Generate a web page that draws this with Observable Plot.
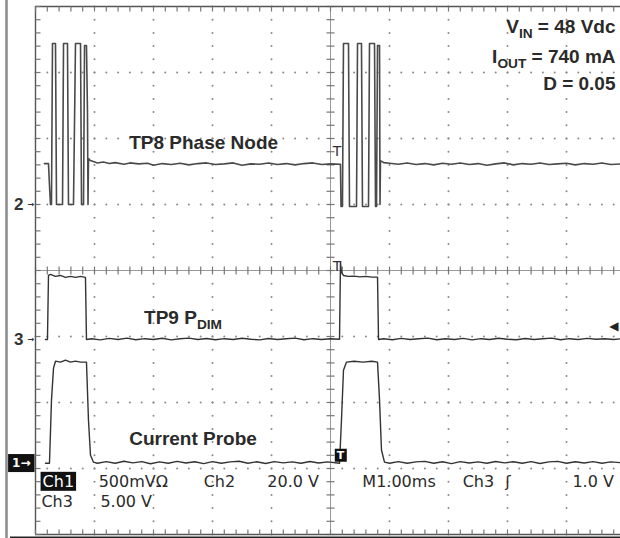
<!DOCTYPE html>
<html><head><meta charset="utf-8">
<script src="https://cdn.jsdelivr.net/npm/d3@7"></script>
<script src="https://cdn.jsdelivr.net/npm/@observablehq/plot@0.6"></script>
<style>html,body{margin:0;padding:0;background:#fff} #chart svg{display:block}</style>
</head><body><div id="chart"></div>
<script>
// ---- channel setup (scope settings) ----
const channelNames = ["Ch1", "Ch2", "Ch3"];
const voltsPerDiv = [0.5, 20, 5];          // Ch1 500 mV/Ω (A/div), Ch2 20 V/div, Ch3 5 V/div
const markerDiv = [-2.92, 1.0, -1.045];    // ground markers, divisions from centre
const triggerLevel = 1.0;                  // Ch3 trigger level, V
const triggerTime = 5.14;                  // ms

// ---- traces: [time ms, value] ----
const ch2Trace = [[0.15,12.4],[0.22,12.4],[0.237,5.8],[0.254,0],[0.271,0],[0.288,48.8],[0.339,48.8],[0.356,0],[0.458,0],[0.475,48.8],[0.542,48.8],[0.559,0],[0.644,0],[0.678,48.8],[0.763,48.8],[0.78,0],[0.814,0],[0.831,48.2],[0.864,48.2],[0.881,27.9],[0.89,0],[0.898,13.9],[0.93,13.3],[0.98,13.0],[1.05,12.6],[1.15,12.9],[1.25,12.4],[1.35,12.7],[1.5,12.2],[1.6,12.6],[1.75,12.3],[1.9,12.5],[2.0,11.9],[2.15,12.4],[2.3,12.1],[2.45,12.5],[2.6,12.0],[2.75,12.4],[2.9,12.6],[3.05,12.1],[3.2,12.3],[3.35,12.6],[3.5,11.9],[3.65,12.3],[3.8,12.2],[3.95,12.6],[4.1,12.1],[4.25,12.4],[4.4,12.0],[4.55,12.4],[4.7,12.6],[4.85,12.1],[5.0,12.3],[5.169,12.2],[5.178,-0.6],[5.203,-0.6],[5.22,48.8],[5.305,48.8],[5.322,-0.6],[5.441,-0.6],[5.458,48.8],[5.525,48.8],[5.542,-0.6],[5.644,-0.6],[5.661,48.8],[5.746,48.8],[5.763,-0.6],[5.78,-0.6],[5.797,48.2],[5.831,48.2],[5.839,0],[5.847,13.3],[5.9,12.7],[6.0,12.5],[6.15,12.2],[6.3,12.6],[6.45,12.1],[6.6,12.4],[6.75,12.0],[6.9,12.5],[7.05,12.2],[7.2,12.6],[7.35,12.1],[7.5,12.4],[7.65,11.9],[7.8,12.3],[7.95,12.6],[8.1,12.0],[8.25,12.4],[8.4,12.2],[8.55,12.6],[8.7,12.1],[8.85,12.3],[9.0,12.5],[9.15,12.0],[9.3,12.4],[9.45,12.2],[9.6,12.6],[9.75,12.1],[9.92,12.3]];

const ch3Trace = [[0.169,0],[0.203,0],[0.22,4.85],[0.254,4.93],[0.339,4.78],[0.424,4.85],[0.508,4.7],[0.593,4.78],[0.678,4.7],[0.763,4.78],[0.847,4.7],[0.864,0],[0.95,0.05],[1.1,-0.03],[1.25,0.08],[1.4,0.0],[1.55,0.1],[1.7,-0.02],[1.85,0.06],[2.0,0.0],[2.15,0.09],[2.3,-0.03],[2.45,0.05],[2.6,0.1],[2.75,0.0],[2.9,0.07],[3.05,-0.02],[3.2,0.06],[3.35,0.0],[3.5,0.09],[3.65,0.02],[3.8,-0.03],[3.95,0.07],[4.1,0.0],[4.25,0.05],[4.4,0.1],[4.55,-0.02],[4.7,0.06],[4.85,0.0],[5.0,0.05],[5.153,0.02],[5.169,5.84],[5.186,5.08],[5.22,4.85],[5.3,4.78],[5.4,4.8],[5.5,4.74],[5.6,4.78],[5.7,4.72],[5.797,4.72],[5.814,0],[5.9,0.05],[6.05,-0.02],[6.2,0.08],[6.35,0.0],[6.5,0.06],[6.65,0.1],[6.8,-0.02],[6.95,0.05],[7.1,0.0],[7.25,0.08],[7.4,-0.03],[7.55,0.06],[7.7,0.0],[7.85,0.09],[8.0,0.02],[8.15,-0.02],[8.3,0.07],[8.45,0.0],[8.6,0.05],[8.75,0.1],[8.9,-0.02],[9.05,0.06],[9.2,0.0],[9.35,0.08],[9.5,0.02],[9.65,0.06],[9.8,0.0],[9.92,0.05]];

const ch1Trace = [[0.169,0],[0.237,0],[0.271,0.478],[0.305,0.72],[0.339,0.773],[0.424,0.766],[0.508,0.781],[0.593,0.766],[0.678,0.773],[0.763,0.766],[0.864,0.766],[0.898,0.326],[0.932,0.061],[0.983,0.008],[1.05,0.0],[1.2,0.012],[1.35,0.0],[1.5,0.015],[1.65,0.003],[1.8,0.012],[1.95,-0.004],[2.1,0.01],[2.25,0.0],[2.4,0.014],[2.55,0.002],[2.7,0.011],[2.85,-0.003],[3.0,0.012],[3.15,0.0],[3.3,0.01],[3.45,0.015],[3.6,0.0],[3.75,0.011],[3.9,-0.002],[4.05,0.012],[4.2,0.003],[4.35,0.01],[4.5,0.0],[4.65,0.013],[4.8,0.002],[4.95,0.01],[5.153,0.0],[5.186,0.326],[5.22,0.705],[5.271,0.766],[5.4,0.773],[5.55,0.766],[5.7,0.773],[5.797,0.766],[5.831,0.478],[5.864,0.1],[5.915,0.008],[6.0,0.0],[6.15,0.012],[6.3,0.0],[6.45,0.01],[6.6,0.014],[6.75,0.0],[6.9,0.011],[7.05,-0.003],[7.2,0.012],[7.35,0.002],[7.5,0.01],[7.65,0.0],[7.8,0.013],[7.95,0.003],[8.1,0.011],[8.25,0.0],[8.4,0.012],[8.55,-0.002],[8.7,0.01],[8.85,0.014],[9.0,0.0],[9.15,0.011],[9.3,0.002],[9.45,0.012],[9.6,0.0],[9.75,0.01],[9.92,0.004]];

// ---- texts ----
const traceLabels = ["Current Probe", "TP8 Phase Node", "TP9 P_DIM"];
const conditionLabels = ["V_IN = 48 Vdc", "I_OUT = 740 mA", "D = 0.05"];
const readoutRow1 = ["Ch1", "500mVΩ", "Ch2", "20.0 V", "M1.00ms", "Ch3", "ʃ", "1.0 V"];
const readoutRow2 = ["Ch3", "5.00 V"];
const markerLabels = ["1", "2", "3"];

// ---- helpers ----
const toDiv = (i) => (d) => markerDiv[i] + d[1] / voltsPerDiv[i];
const divs = d3.range(0, 51).map(k => k / 5);        // 1/5-division steps horizontally
const vdivs = d3.range(0, 41).map(k => -4 + k / 5);  // 1/5-division steps vertically
const gridX = [1,2,3,4,6,7,8,9];
const gridY = [-3,-2,-1,1,2,3];
const dotsV = gridX.flatMap(x => vdivs.map(y => ({x, y})));
const dotsH = gridY.flatMap(y => divs.map(x => ({x, y})));
const pxX = 1/59, pxY = 1/66;
const sans = "Liberation Sans, Arial, sans-serif";
const scopeFont = "DejaVu Sans, sans-serif";

const row1X = [0.12, 1.07, 2.85, 3.93, 5.54, 7.24, 7.96, 9.1];
const row2X = [0.1, 1.1];

const plot = Plot.plot({
  width: 620, height: 538,
  marginTop: 0, marginRight: 0, marginBottom: 0, marginLeft: 0,
  x: {domain: [0, 10], range: [35, 625], axis: null},
  y: {domain: [-4, 4], range: [534, 6], axis: null},
  style: {background: "#fff"},
  marks: [
    // screen edge artefacts
    Plot.ruleX([0], {dx: -29, stroke: "#8a8a8a", strokeWidth: 2.5}),
    Plot.ruleY([-4], {dy: 3, x1: -25*pxX, x2: 10, stroke: "#222", strokeWidth: 2}),
    // dotted graticule
    Plot.dot(dotsV, {x: "x", y: "y", r: 1, fill: "#8a8a8a"}),
    Plot.dot(dotsH, {x: "x", y: "y", r: 1, fill: "#8a8a8a"}),
    // centre cross with ticks
    Plot.ruleX([5], {y1: -4, y2: 4, stroke: "#999", strokeWidth: 1}),
    Plot.ruleY([0], {x1: 0, x2: 10, stroke: "#999", strokeWidth: 1}),
    Plot.link(divs, {x1: d => d, x2: d => d, y1: () => -4*pxY, y2: () => 4*pxY, stroke: "#777", strokeWidth: 1.2}),
    Plot.link(vdivs, {y1: d => d, y2: d => d, x1: () => 5 - 4*pxX, x2: () => 5 + 4*pxX, stroke: "#777", strokeWidth: 1.2}),
    // frame
    Plot.ruleY([4], {x1: 0, x2: 10, stroke: "#555", strokeWidth: 1.4}),
    Plot.ruleY([-4], {x1: 0, x2: 10, stroke: "#555", strokeWidth: 1.4}),
    Plot.ruleX([0], {y1: -4, y2: 4, stroke: "#555", strokeWidth: 1.4}),
    Plot.link(divs, {x1: d => d, x2: d => d, y1: () => 4, y2: () => 4 - 5*pxY, stroke: "#777", strokeWidth: 1.2}),
    Plot.link(divs, {x1: d => d, x2: d => d, y1: () => -4, y2: () => -4 + 5*pxY, stroke: "#777", strokeWidth: 1.2}),
    Plot.link(vdivs, {y1: d => d, y2: d => d, x1: () => 0, x2: () => 5*pxX, stroke: "#777", strokeWidth: 1.2}),
    // traces
    Plot.line(ch2Trace, {x: d => d[0], y: toDiv(1), stroke: "#4a4a4a", strokeWidth: 1.6}),
    Plot.line(ch3Trace, {x: d => d[0], y: toDiv(2), stroke: "#333", strokeWidth: 1.4}),
    Plot.line(ch1Trace, {x: d => d[0], y: toDiv(0), stroke: "#333", strokeWidth: 1.4}),
    // trigger markers
    Plot.text(["T"], {x: triggerTime - 0.03, y: markerDiv[1] + 12.2/voltsPerDiv[1] + 13*pxY, text: d => d, fontSize: 14, fontFamily: scopeFont, fill: "#333"}),
    Plot.text(["T"], {x: triggerTime - 0.03, y: markerDiv[2] + 5.84/voltsPerDiv[2] - 4*pxY, text: d => d, fontSize: 14, fontFamily: scopeFont, fill: "#333"}),
    Plot.text(["T"], {x: triggerTime + 0.03, y: markerDiv[0] + 8*pxY, text: d => d, fontSize: 11, fontWeight: "bold", fontFamily: scopeFont, fill: "#fff"}),
    Plot.text(["◀"], {x: 10, dx: -7, y: markerDiv[2] + triggerLevel / voltsPerDiv[2], text: d => d, fontSize: 12, fontFamily: scopeFont, fill: "#222", textAnchor: "end"}),
    // channel ground markers
    Plot.text([markerLabels[1], markerLabels[2]], {x: 0, dx: -12, y: (d, i) => markerDiv[i + 1], text: d => d, fontSize: 17, fontWeight: "bold", fontFamily: sans, fill: "#333", textAnchor: "end"}),
    Plot.text(["→", "→"], {x: 0, dx: -1, y: (d, i) => markerDiv[i + 1], text: d => d, fontSize: 8, fontWeight: "bold", fontFamily: scopeFont, fill: "#333", textAnchor: "end"}),
    Plot.text([markerLabels[0] + "→"], {x: 0, dx: -5, y: markerDiv[0], text: d => d, fontSize: 12, fontWeight: "bold", fontFamily: scopeFont, fill: "#fff", textAnchor: "end"}),
    // trace labels
    Plot.text([traceLabels[1]], {x: 2.85, y: 1.94, text: d => d, fontSize: 19, fontWeight: "bold", fontFamily: sans, fill: "#2a2a2a"}),
    Plot.text([traceLabels[2]], {x: 2.5, y: -0.72, text: d => d, fontSize: 19, fontWeight: "bold", fontFamily: sans, fill: "#2a2a2a"}),
    Plot.text([traceLabels[0]], {x: 2.67, y: -2.55, text: d => d, fontSize: 19, fontWeight: "bold", fontFamily: sans, fill: "#2a2a2a"}),
    // conditions
    Plot.text(conditionLabels, {x: 10, dx: -10, y: (d, i) => [3.69, 3.23, 2.83][i], text: d => d, fontSize: 19, fontWeight: "bold", fontFamily: sans, fill: "#2a2a2a", textAnchor: "end"}),
    // readout
    Plot.text(readoutRow1, {x: (d, i) => row1X[i], y: -3.2, text: d => d, fontSize: 16, fontFamily: scopeFont, fill: (d, i) => i === 0 ? "#fff" : "#2a2a2a", textAnchor: "start"}),
    Plot.text(readoutRow2, {x: (d, i) => row2X[i], y: -3.5, text: d => d, fontSize: 16, fontFamily: scopeFont, fill: "#2a2a2a", textAnchor: "start"})
  ]
});
document.getElementById("chart").append(plot);

// subscripts: "X_SUB rest"
d3.select(plot).selectAll("text").each(function () {
  const t = this.textContent;
  const m = /^(.*?)_([A-Z]+)(.*)$/.exec(t);
  if (!m) return;
  const sel = d3.select(this);
  sel.text(null);
  sel.append("tspan").text(m[1]);
  sel.append("tspan").attr("font-size", "0.72em").attr("dy", 5).text(m[2]);
  sel.append("tspan").attr("dy", -5).text(m[3]);
});

// black boxes behind highlighted labels
d3.select(plot).selectAll("text").each(function () {
  const t = this.textContent;
  const white = (this.getAttribute("fill") || this.parentNode.getAttribute("fill") || "").toLowerCase();
  const isBox = ((t === "Ch1" || t === "T") && (white === "#fff" || white === "white")) || t === "1→";
  if (!isBox) return;
  const b = this.getBBox();
  const tr = this.getAttribute("transform");
  const r = document.createElementNS("http://www.w3.org/2000/svg", "rect");
  const padX = t === "1→" ? 4 : 2, padY = t === "1→" ? 2 : 0;
  r.setAttribute("x", b.x - padX); r.setAttribute("y", b.y - padY);
  r.setAttribute("width", b.width + 2*padX); r.setAttribute("height", b.height + 2*padY);
  r.setAttribute("fill", "#111");
  if (tr) r.setAttribute("transform", tr);
  this.parentNode.insertBefore(r, this);
});
</script>
</body></html>
